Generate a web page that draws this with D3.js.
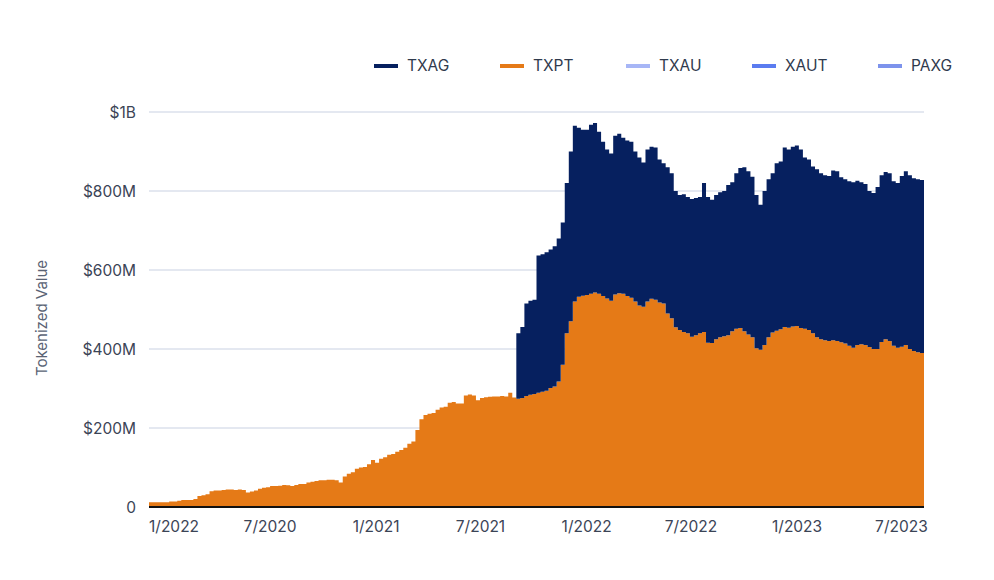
<!DOCTYPE html>
<html>
<head>
<meta charset="utf-8">
<script src="https://cdn.jsdelivr.net/npm/d3@7"></script>
<style>
  body { margin: 0; background: #fff; }
  text { font-family: Inter, "Liberation Sans", sans-serif; }
</style>
</head>
<body>
<script>
// weekly readings, in millions of USD
const startDate = new Date(2019, 11, 5);
const txagStartWeek = 91;

const TXPT = [
  12, 12, 12, 12, 12, 14, 14, 16, 18, 18, 18, 20, 28, 30, 32, 40, 42, 42, 43, 44,
  44, 43, 44, 43, 37, 39, 42, 46, 49, 50, 53, 53, 54, 56, 55, 53, 56, 58, 58, 62,
  64, 66, 68, 68, 69, 69, 68, 62, 77, 84, 88, 97, 100, 101, 108, 119, 112, 122, 126, 132,
  134, 140, 144, 150, 160, 166, 195, 222, 233, 236, 238, 246, 252, 254, 264, 266, 262, 262, 282, 285,
  282, 270, 276, 278, 279, 280, 280, 281, 280, 289, 277, 274, 276, 281, 284, 286, 289, 292, 294, 301,
  305, 318, 360, 440, 470, 520, 532, 535, 537, 540, 543, 540, 534, 528, 522, 538, 541, 540, 534, 530,
  520, 510, 507, 520, 527, 525, 518, 515, 490, 478, 455, 448, 443, 440, 431, 435, 440, 443, 416, 415,
  425, 430, 432, 435, 445, 451, 453, 445, 437, 430, 402, 398, 410, 430, 442, 446, 450, 456, 454, 457,
  458, 453, 451, 448, 440, 430, 425, 422, 420, 422, 420, 417, 414, 408, 403, 410, 412, 410, 405, 400,
  400, 418, 425, 420, 408, 403, 406, 410, 400, 395, 392, 390, 388
];

// TXAG starts in week 91
const TXAG = [
  166, 180, 234, 238, 239, 348, 348, 351, 351, 355, 362, 360, 380, 430, 445, 428, 420, 418, 428, 429,
  410, 391, 377, 373, 402, 404, 395, 394, 395, 380, 375, 365, 385, 385, 385, 362, 355, 370, 367, 345,
  342, 349, 345, 349, 347, 345, 377, 369, 363, 365, 367, 368, 380, 377, 394, 405, 415, 413, 406, 388,
  367, 390, 400, 403, 424, 425, 454, 451, 455, 457, 452, 434, 432, 422, 425, 420, 418, 418, 430, 430,
  418, 416, 417, 419, 416, 410, 408, 395, 395, 410, 422, 423, 425, 417, 417, 432, 440, 440, 437, 438,
  438, 430
];

const legendNames = ["TXAG", "TXPT", "TXAU", "XAUT", "PAXG"];
const legendColors = ["#06205f", "#e57a17", "#a7b6f6", "#5b7cf0", "#7d93ec"];

const yTicks = [0, 200, 400, 600, 800, 1000];
const yTickLabels = ["0", "$200M", "$400M", "$600M", "$800M", "$1B"];

const xTicks = ["2020-01-01", "2020-07-01", "2021-01-01", "2021-07-01", "2022-01-01", "2022-07-01", "2023-01-01", "2023-07-01"];
const xTickLabels = ["1/2022", "7/2020", "1/2021", "7/2021", "1/2022", "7/2022", "1/2023", "7/2023"];

const width = 994, height = 580;
const plotLeft = 149, plotRight = 924, plotTop = 112, plotBottom = 507;

const svg = d3.select('body').append('svg')
    .attr('width', width)
    .attr('height', height);

const rows = TXPT.map((v, i) => ({
  date: d3.timeDay.offset(startDate, 7 * i),
  txpt: v,
  txag: i >= txagStartWeek ? TXAG[i - txagStartWeek] : null
}));

const x = d3.scaleTime()
    .domain([startDate, rows[rows.length - 1].date])
    .range([plotLeft, plotRight]);

const y = d3.scaleLinear()
    .domain([0, 1000])
    .range([plotBottom, plotTop]);

// grid
svg.append('g')
  .selectAll('line')
  .data(yTicks.slice(1))
  .enter().append('line')
    .attr('x1', plotLeft).attr('x2', plotRight)
    .attr('y1', d => y(d)).attr('y2', d => y(d))
    .attr('stroke', '#c9d1e2')
    .attr('stroke-width', 1);

// areas
const orangeArea = d3.area()
    .curve(d3.curveStepAfter)
    .x(d => x(d.date))
    .y0(y(0))
    .y1(d => y(d.txpt));

const navyArea = d3.area()
    .curve(d3.curveStepAfter)
    .x(d => x(d.date))
    .y0(d => y(d.txpt))
    .y1(d => y(d.txpt + d.txag));

svg.append('path')
    .datum(rows)
    .attr('d', orangeArea)
    .attr('fill', legendColors[1]);

svg.append('path')
    .datum(rows.filter(d => d.txag !== null))
    .attr('d', navyArea)
    .attr('fill', legendColors[0]);

// baseline
svg.append('line')
    .attr('x1', plotLeft).attr('x2', plotRight)
    .attr('y1', plotBottom).attr('y2', plotBottom)
    .attr('stroke', '#111')
    .attr('stroke-width', 2);

// y axis labels
const yAxis = d3.axisLeft(y)
    .tickValues(yTicks)
    .tickSize(0)
    .tickPadding(0)
    .tickFormat((d, i) => yTickLabels[i]);

svg.append('g')
    .attr('transform', 'translate(136,0)')
    .call(yAxis)
    .call(g => g.select('.domain').remove())
    .call(g => g.selectAll('text')
        .attr('fill', '#3b4456')
        .attr('font-size', 15.5)
        .attr('dy', '0.35em'));

svg.append('text')
    .attr('transform', 'translate(47,318) rotate(-90)')
    .attr('text-anchor', 'middle')
    .attr('fill', '#5a6374')
    .attr('font-size', 15)
    .text('Tokenized Value');

// x axis labels
const xAxis = d3.axisBottom(x)
    .tickValues(xTicks.map(d => d3.timeParse('%Y-%m-%d')(d)))
    .tickSize(0)
    .tickPadding(0)
    .tickFormat((d, i) => xTickLabels[i]);

svg.append('g')
    .attr('transform', `translate(0,${plotBottom})`)
    .call(xAxis)
    .call(g => g.select('.domain').remove())
    .call(g => g.selectAll('text')
        .attr('fill', '#3b4456')
        .attr('font-size', 15.5)
        .attr('dy', '1.6em')
        .each(function () {
          const t = d3.select(this.parentNode);
          const tx = +t.attr('transform').match(/translate\(([^,]+)/)[1];
          const w = this.getComputedTextLength();
          if (tx - w / 2 < plotLeft) d3.select(this).attr('text-anchor', 'start').attr('x', plotLeft - tx);
        }));

// legend
const legend = svg.append('g')
  .selectAll('g')
  .data(legendNames)
  .enter().append('g')
    .attr('transform', (d, i) => `translate(${374 + i * 126},66)`);

legend.append('line')
    .attr('x1', 0).attr('x2', 24)
    .attr('stroke', (d, i) => legendColors[i])
    .attr('stroke-width', 4);

legend.append('text')
    .attr('x', 33)
    .attr('dy', '0.35em')
    .attr('fill', '#2f3a4d')
    .attr('font-size', 15.5)
    .text(d => d);
</script>
</body>
</html>
